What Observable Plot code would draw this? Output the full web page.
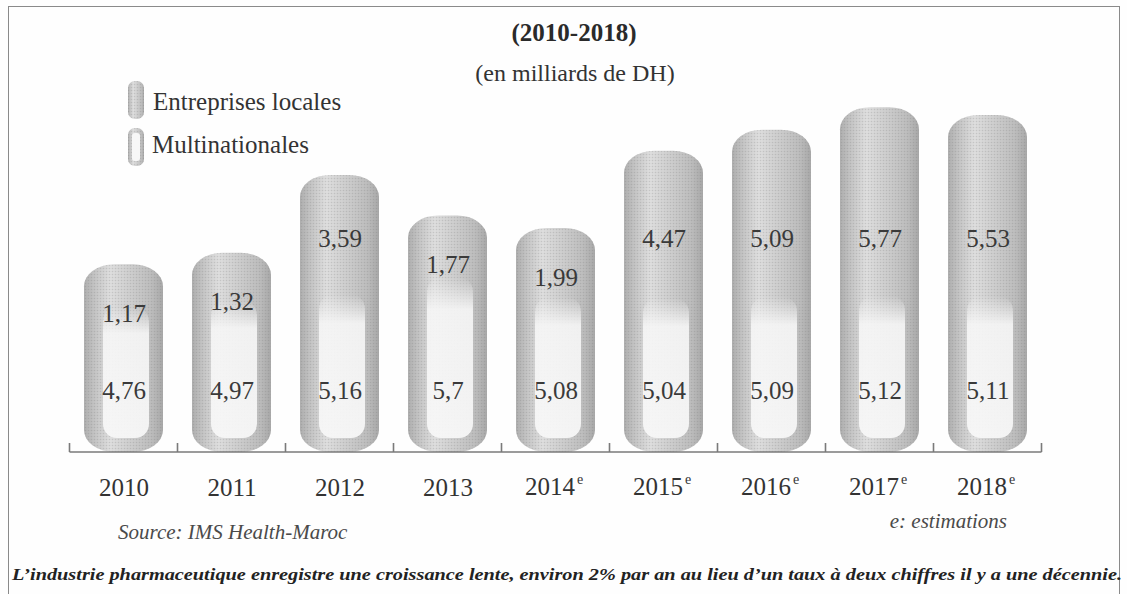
<!DOCTYPE html>
<html>
<head>
<meta charset="utf-8">
<script src="https://cdn.jsdelivr.net/npm/d3@7"></script>
<script src="https://cdn.jsdelivr.net/npm/@observablehq/plot@0.6"></script>
<style>
  html, body { margin: 0; padding: 0; background: #fff; }
  #wrap { position: relative; width: 1127px; height: 594px; overflow: hidden; background: #fefefe;
          font-family: "Liberation Serif", "DejaVu Serif", serif; color: #333; }
  #wrap svg.plot { position: absolute; left: 0; top: 0; }
  .ov { position: absolute; white-space: nowrap; transform: translateY(-50%); line-height: 1; }
  .line { position: absolute; background: #8a8a8a; }
</style>
</head>
<body>
<div id="wrap"></div>
<script>
// ---------- data ----------
const years = ["2010", "2011", "2012", "2013", "2014", "2015", "2016", "2017", "2018"];
const estimated = [false, false, false, false, true, true, true, true, true];
const multinationales = [4.76, 4.97, 5.16, 5.7, 5.08, 5.04, 5.09, 5.12, 5.11];
const entreprisesLocales = [1.17, 1.32, 3.59, 1.77, 1.99, 4.47, 5.09, 5.77, 5.53];
const seriesNames = ["Entreprises locales", "Multinationales"];
const titleText = "(2010-2018)";
const subtitleText = "(en milliards de DH)";
const sourceText = "Source: IMS Health-Maroc";
const noteText = "e: estimations";
const estMark = "e";
const captionText = "L\u2019industrie pharmaceutique enregistre une croissance lente, environ 2% par an au lieu d\u2019un taux \u00e0 deux chiffres il y a une d\u00e9cennie.";

// ---------- table built from the arrays ----------
const fmt = v => String(v).replace(".", ",");
const rows = years.map((year, i) => ({
  year,
  est: estimated[i],
  mn: multinationales[i],
  loc: entreprisesLocales[i],
  total: +(multinationales[i] + entreprisesLocales[i]).toFixed(2)
}));

const NS = "http://www.w3.org/2000/svg";

function defsMark() {
  const g = document.createElementNS(NS, "g");
  g.innerHTML = `
  <defs>
    <linearGradient id="gBar" x1="0" y1="0" x2="1" y2="0">
      <stop offset="0" stop-color="#aeaeae"/>
      <stop offset="0.12" stop-color="#c2c2c2"/>
      <stop offset="0.33" stop-color="#dedede"/>
      <stop offset="0.55" stop-color="#d0d0d0"/>
      <stop offset="0.85" stop-color="#bdbdbd"/>
      <stop offset="1" stop-color="#a8a8a8"/>
    </linearGradient>
    <linearGradient id="gInner" x1="0" y1="0" x2="0" y2="1">
      <stop offset="0" stop-color="#f6f6f6" stop-opacity="0"/>
      <stop offset="0.2" stop-color="#f6f6f6" stop-opacity="0.9"/>
      <stop offset="1" stop-color="#f8f8f8" stop-opacity="0.92"/>
    </linearGradient>
    <pattern id="dots" width="3" height="3" patternUnits="userSpaceOnUse">
      <circle cx="1.5" cy="1.5" r="0.8" fill="#6f6f6f" fill-opacity="0.22"/>
    </pattern>
  </defs>`;
  return g;
}

function ticksMark(index, scales, values, dims) {
  const x = scales.x, y = scales.y;
  const bw = x.bandwidth ? x.bandwidth() : 0;
  const step = x.step ? x.step() : (x(years[1]) - x(years[0]));
  const gap = (step - bw) / 2;
  const y0 = y(0);
  const g = document.createElementNS(NS, "g");
  g.setAttribute("stroke", "#7a7a7a");
  g.setAttribute("stroke-width", "1.6");
  const xs = years.map(d => x(d) - gap);
  xs.push(x(years[years.length - 1]) + bw + gap);
  for (const xx of xs) {
    const l = document.createElementNS(NS, "line");
    l.setAttribute("x1", xx); l.setAttribute("x2", xx);
    l.setAttribute("y1", y0); l.setAttribute("y2", y0 - 9);
    g.appendChild(l);
  }
  const base = document.createElementNS(NS, "line");
  base.setAttribute("x1", xs[0]); base.setAttribute("x2", xs[xs.length - 1]);
  base.setAttribute("y1", y0); base.setAttribute("y2", y0);
  g.appendChild(base);
  return g;
}

const serif = "Liberation Serif";
const plain = rows.filter(d => !d.est);
const est = rows.filter(d => d.est);
const plot = Plot.plot({
  width: 1127,
  height: 594,
  marginLeft: 69,
  marginRight: 85,
  marginTop: 72,
  marginBottom: 142,
  x: { domain: years, paddingInner: 0.27, paddingOuter: 0.135, axis: null },
  y: { domain: [0, 12], axis: null },
  style: { background: "transparent", fontFamily: serif, color: "#333" },
  marks: [
    defsMark,
    Plot.barY(rows, { x: "year", y: "total", fill: "url(#gBar)", rx: 30, ry: 22 }),
    Plot.barY(rows, { x: "year", y: "total", fill: "url(#dots)", rx: 30, ry: 22 }),
    Plot.barY(rows, { x: "year", y1: 0, y2: "mn", fill: "url(#gInner)", rx: 14, ry: 14,
                      insetLeft: 19, insetRight: 14, insetTop: 6, insetBottom: 14 }),
    ticksMark,
    Plot.text(rows, { x: "year", y: d => Math.min(d.total - 1.55, 6.75), text: d => fmt(d.loc),
                      fontSize: 25, fill: "#3a3a3a", fontFamily: serif }),
    Plot.text(rows, { x: "year", y: () => 1.95, text: d => fmt(d.mn),
                      fontSize: 25, fill: "#3a3a3a", fontFamily: serif }),
    Plot.text(plain, { x: "year", y: () => 0, dy: 35, text: "year",
                      fontSize: 25, fill: "#333", fontFamily: serif }),
    Plot.text(est, { x: "year", y: () => 0, dy: 34, dx: -6, text: "year",
                      fontSize: 25, fill: "#333", fontFamily: serif }),
    Plot.text(est, { x: "year", y: () => 0, dy: 27, dx: 24, text: () => estMark,
                      fontSize: 14, fill: "#333", fontFamily: serif })
  ]
});
plot.classList.add("plot");
const wrap = document.getElementById("wrap");
wrap.appendChild(plot);

// ---------- frame ----------
function addLine(l, t, w, h) {
  const d = document.createElement("div");
  d.className = "line";
  Object.assign(d.style, { left: l + "px", top: t + "px", width: w + "px", height: h + "px" });
  wrap.appendChild(d);
}
addLine(8, 6, 1112, 1);
addLine(8, 6, 1, 588);
addLine(1119, 6, 1, 588);

// ---------- texts ----------
function addText(txt, opts) {
  const d = document.createElement("div");
  d.className = "ov";
  d.textContent = txt;
  Object.assign(d.style, opts);
  wrap.appendChild(d);
  return d;
}
const t1 = addText(titleText, { top: "32px", left: "574px", fontSize: "25px", fontWeight: "bold", color: "#2a2a2a" });
t1.style.transform = "translate(-50%, -50%)";
const t2 = addText(subtitleText, { top: "73px", left: "575px", fontSize: "24px", color: "#333" });
t2.style.transform = "translate(-50%, -50%)";

addText(sourceText, { top: "532px", left: "118px", fontSize: "21px", fontStyle: "italic", color: "#4a4a4a" });
const n = addText(noteText, { top: "521px", left: "1007px", fontSize: "21px", fontStyle: "italic", color: "#4a4a4a" });
n.style.transform = "translate(-100%, -50%)";

const cap = addText(captionText, { top: "574px", left: "12px", fontSize: "17px", fontStyle: "italic", fontWeight: "bold", color: "#222", transformOrigin: "0 50%" });
const cw = cap.getBoundingClientRect().width;
cap.style.transform = `translateY(-50%) scaleX(${(1110 / cw).toFixed(4)})`;

// ---------- legend ----------
function swatch(kind, top) {
  const s = document.createElementNS(NS, "svg");
  s.setAttribute("width", 18); s.setAttribute("height", 40);
  s.style.position = "absolute"; s.style.left = "127px"; s.style.top = top + "px";
  s.innerHTML = `<rect x="1" y="1" width="16" height="38" rx="7" ry="7" fill="url(#gBar)"/>
                 <rect x="1" y="1" width="16" height="38" rx="7" ry="7" fill="url(#dots)"/>` +
    (kind === "mn" ? `<rect x="5" y="6" width="8" height="28" rx="3" fill="#f7f7f7"/>` : "");
  wrap.appendChild(s);
}
swatch("loc", 80);
swatch("mn", 127);
addText(seriesNames[0], { top: "101px", left: "153px", fontSize: "25px", color: "#333" });
addText(seriesNames[1], { top: "144px", left: "152px", fontSize: "25px", color: "#333" });
</script>
</body>
</html>
